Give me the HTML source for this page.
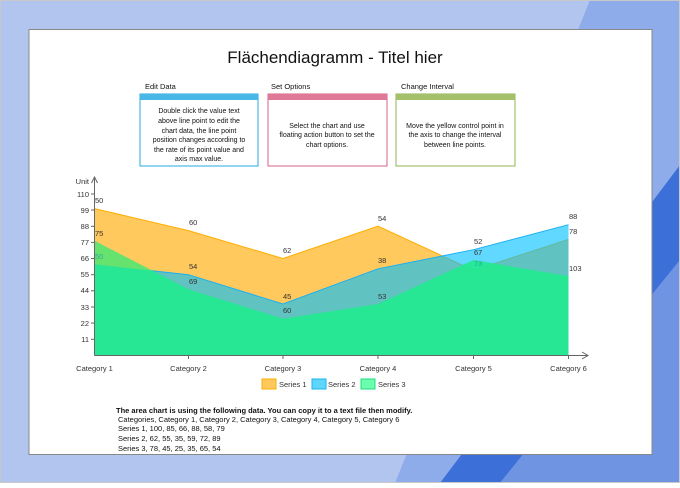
<!DOCTYPE html>
<html><head><meta charset="utf-8"><style>
body{margin:0;width:680px;height:483px;overflow:hidden;font-family:"Liberation Sans",sans-serif;}
svg text{font-family:"Liberation Sans",sans-serif;}
</style></head><body>
<svg width="680" height="483" viewBox="0 0 680 483" xmlns="http://www.w3.org/2000/svg">
<rect x="0" y="0" width="680" height="483" fill="#b2c5ef"/>
<polygon points="590,0 680,0 680,483 395,483" fill="#8eabea"/>
<polygon points="440,483 500,483 680,260 680,165" fill="#3d6fd8"/>
<polygon points="500,483 680,483 680,260" fill="#6f95e2"/>
<rect x="0.5" y="0.5" width="679" height="482" fill="none" stroke="#c8c8c8"/>
<rect x="29" y="29.5" width="623" height="425" fill="#fff" stroke="#888" stroke-width="1"/>
<text x="335" y="63" font-size="17" text-anchor="middle" fill="#111">Flächendiagramm - Titel hier</text>
<g font-size="7.5" fill="#111">
<text x="145" y="89">Edit Data</text>
<text x="271" y="89">Set Options</text>
<text x="401" y="89">Change Interval</text>
</g>
<rect x="140" y="94" width="118" height="72" fill="#fff" stroke="#29a8e0"/>
<rect x="140" y="94" width="118" height="6" fill="#4ab8e6"/>
<rect x="268" y="94" width="119" height="72" fill="#fff" stroke="#d8608a"/>
<rect x="268" y="94" width="119" height="6" fill="#e07898"/>
<rect x="396" y="94" width="119" height="72" fill="#fff" stroke="#92b452"/>
<rect x="396" y="94" width="119" height="6" fill="#a4c06a"/>
<g font-size="7" fill="#111" text-anchor="middle">
<text x="199" y="113">Double click the value text</text>
<text x="199" y="123">above line point to edit the</text>
<text x="199" y="133">chart data, the line point</text>
<text x="199" y="142">position changes according to</text>
<text x="199" y="152">the rate of its point value and</text>
<text x="199" y="161">axis max value.</text>
<text x="327" y="128">Select the chart and use</text>
<text x="327" y="137">floating action button to set the</text>
<text x="327" y="147">chart options.</text>
<text x="455" y="128">Move the yellow control point in</text>
<text x="455" y="137">the axis to change the interval</text>
<text x="455" y="147">between line points.</text>
</g>
<polygon points="94.5,355.4 94.5,208.6 188.5,230.6 283,258.5 378,226.2 473.5,270.3 568.5,239.4 568.5,355.4" fill="#ffc95e"/>
<polyline points="94.5,208.6 188.5,230.6 283,258.5 378,226.2 473.5,270.3 568.5,239.4" fill="none" stroke="#ffae00" stroke-width="1"/>
<polygon points="94.5,355.4 94.5,264.4 188.5,274.7 283,304 378,268.8 473.5,249.7 568.5,224.7 568.5,355.4" fill="#00c0ff" fill-opacity="0.62"/>
<polyline points="94.5,264.4 188.5,274.7 283,304 378,268.8 473.5,249.7 568.5,224.7" fill="none" stroke="#1ab0f0" stroke-width="1"/>
<polygon points="94.5,355.4 94.5,240.9 188.5,289.3 283,318.7 378,304 473.5,260 568.5,276.1 568.5,355.4" fill="#22e890" fill-opacity="0.93"/>
<polygon points="94.5,240.9 152.5,270.8 94.5,264.4" fill="#66e26e"/>
<line x1="94.5" y1="178" x2="94.5" y2="355.5" stroke="#666"/>
<line x1="94.5" y1="355.5" x2="588" y2="355.5" stroke="#666"/>
<polyline points="91.5,183 94.5,177 97.5,183" fill="none" stroke="#666"/>
<polyline points="582,352 588,355.5 582,359" fill="none" stroke="#666"/>
<g stroke="#666">
<line x1="91" y1="194" x2="94.5" y2="194"/><line x1="91" y1="210" x2="94.5" y2="210"/><line x1="91" y1="226.3" x2="94.5" y2="226.3"/><line x1="91" y1="242.4" x2="94.5" y2="242.4"/><line x1="91" y1="258.5" x2="94.5" y2="258.5"/><line x1="91" y1="274.7" x2="94.5" y2="274.7"/><line x1="91" y1="290.8" x2="94.5" y2="290.8"/><line x1="91" y1="307" x2="94.5" y2="307"/><line x1="91" y1="323.1" x2="94.5" y2="323.1"/><line x1="91" y1="339.3" x2="94.5" y2="339.3"/>
<line x1="188.5" y1="355" x2="188.5" y2="359"/><line x1="283" y1="355" x2="283" y2="359"/><line x1="378" y1="355" x2="378" y2="359"/><line x1="473.5" y1="355" x2="473.5" y2="359"/><line x1="568.5" y1="355" x2="568.5" y2="359"/>
</g>
<g font-size="7.5" fill="#333" text-anchor="end">
<text x="89" y="184">Unit</text>
<text x="89" y="197">110</text><text x="89" y="213">99</text><text x="89" y="229">88</text><text x="89" y="245">77</text><text x="89" y="261">66</text><text x="89" y="277">55</text><text x="89" y="293">44</text><text x="89" y="310">33</text><text x="89" y="326">22</text><text x="89" y="342">11</text>
</g>
<g font-size="7.5" fill="#333" text-anchor="middle">
<text x="94.5" y="371">Category 1</text><text x="188.5" y="371">Category 2</text><text x="283" y="371">Category 3</text><text x="378" y="371">Category 4</text><text x="473.5" y="371">Category 5</text><text x="568.5" y="371">Category 6</text>
</g>
<g font-size="7.5" fill="#333">
<text x="95" y="203">50</text><text x="189" y="225">60</text><text x="283" y="253">62</text><text x="378" y="221">54</text><text x="474" y="244">52</text><text x="569" y="219">88</text>
<text x="95" y="236">75</text><text x="189" y="269">54</text><text x="283" y="299">45</text><text x="378" y="263">38</text><text x="474" y="255">67</text><text x="569" y="234">78</text>
<text x="95" y="259" fill="#3a9">50</text><text x="189" y="284">69</text><text x="283" y="313">60</text><text x="378" y="299">53</text><text x="474" y="266" fill="#2a9">73</text><text x="569" y="271">103</text>
</g>
<rect x="262" y="379" width="14" height="10" fill="#ffc95e" stroke="#ffae00"/>
<text x="279" y="387" font-size="7.5" fill="#333">Series 1</text>
<rect x="312" y="379" width="14" height="10" fill="#60d6fc" stroke="#1ab0f0"/>
<text x="328" y="387" font-size="7.5" fill="#333">Series 2</text>
<rect x="361" y="379" width="14" height="10" fill="#6affac" stroke="#22d880"/>
<text x="378" y="387" font-size="7.5" fill="#333">Series 3</text>
<text x="116" y="413" font-size="7.5" font-weight="bold" fill="#111">The area chart is using the following data. You can copy it to a text file then modify.</text>
<g font-size="7.5" fill="#111">
<text x="118" y="422">Categories, Category 1, Category 2, Category 3, Category 4, Category 5, Category 6</text>
<text x="118" y="431">Series 1, 100, 85, 66, 88, 58, 79</text>
<text x="118" y="441">Series 2, 62, 55, 35, 59, 72, 89</text>
<text x="118" y="451">Series 3, 78, 45, 25, 35, 65, 54</text>
</g>
</svg>
</body></html>
